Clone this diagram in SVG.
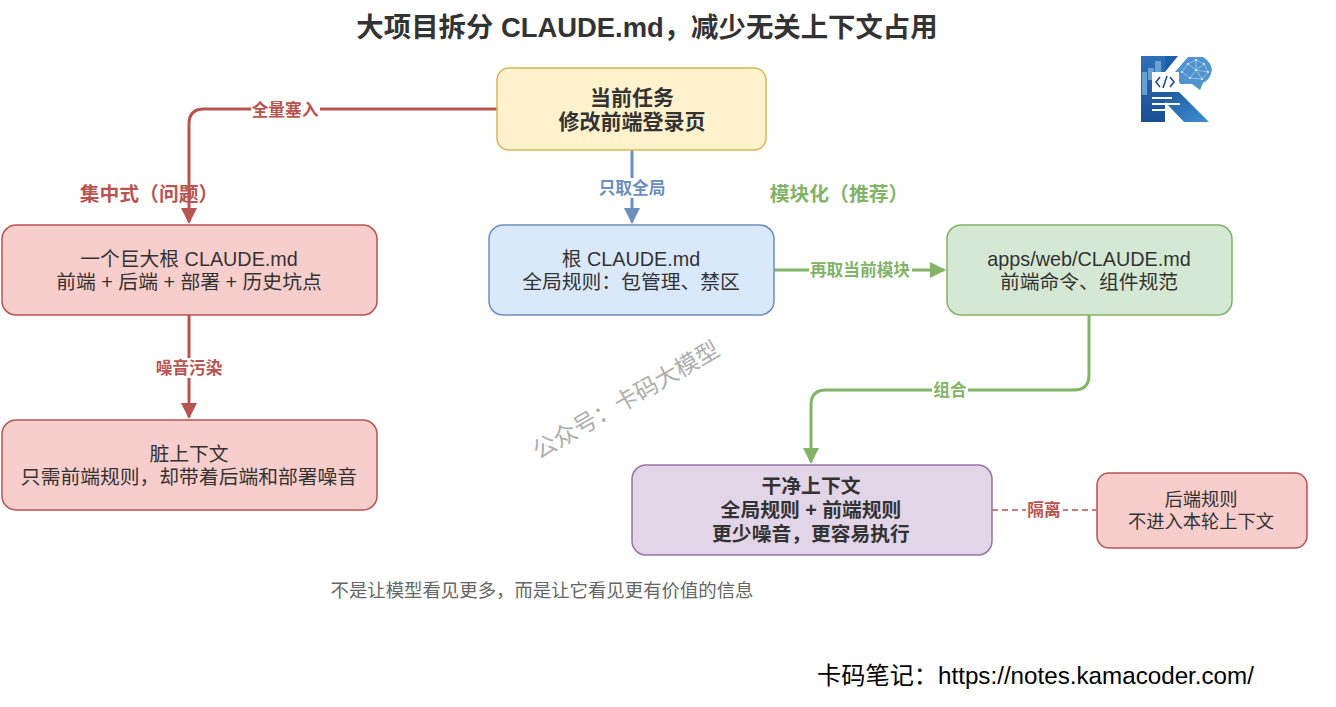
<svg xmlns="http://www.w3.org/2000/svg" width="1336" height="707" viewBox="0 0 1336 707">
<defs>
<linearGradient id="kb" x1="0" y1="0" x2="0" y2="1"><stop offset="0" stop-color="#2f6fb5"/><stop offset="1" stop-color="#1a4f94"/></linearGradient>
<linearGradient id="kl" x1="0" y1="0" x2="1" y2="1"><stop offset="0" stop-color="#1d5a9e"/><stop offset="1" stop-color="#3f8fd0"/></linearGradient>
<marker id="ar" markerUnits="userSpaceOnUse" markerWidth="18" markerHeight="18" refX="14" refY="8" orient="auto"><path d="M0 0L16 8L0 16Z" fill="#b85450"/></marker>
<marker id="ab" markerUnits="userSpaceOnUse" markerWidth="18" markerHeight="18" refX="14" refY="8" orient="auto"><path d="M0 0L16 8L0 16Z" fill="#6c8ebf"/></marker>
<marker id="ag" markerUnits="userSpaceOnUse" markerWidth="18" markerHeight="18" refX="14" refY="8" orient="auto"><path d="M0 0L16 8L0 16Z" fill="#82b366"/></marker>
</defs>
<style>
text{font-family:"Liberation Sans","Noto Sans CJK SC",sans-serif;text-anchor:middle}
.n{font-size:19.800px;fill:#333}
.b{font-size:19.800px;fill:#333;font-weight:700}
.t{font-size:21px;fill:#333;font-weight:700}
.s{font-size:18.300px;fill:#333}
.l{font-size:16.700px;font-weight:700}
.h{font-size:19.800px;font-weight:700}
.c{fill:none;stroke-width:3}
.lbg{fill:#fff}
rect{stroke-width:1.5}
.red{fill:#f8cecc;stroke:#b85450}
</style>
<rect width="1336" height="707" fill="#fff" style="stroke:none"/>
<text id="title" x="647" y="37" style="font-size:27.400px;font-weight:700;fill:#333">大项目拆分 CLAUDE.md，减少无关上下文占用</text>
<g id="connectors">
<path class="c" stroke="#b85450" marker-end="url(#ar)" d="M497 109H204Q189 109 189 124V222"/>
<path class="c" stroke="#b85450" marker-end="url(#ar)" d="M189 315V417"/>
<path class="c" stroke="#6c8ebf" marker-end="url(#ab)" d="M632 150V222"/>
<path class="c" stroke="#82b366" marker-end="url(#ag)" d="M774 270H944"/>
<path class="c" stroke="#82b366" marker-end="url(#ag)" d="M1089 315V375Q1089 390 1074 390H826Q811 390 811 405V462"/>
<path fill="none" stroke="#b85450" stroke-width="1.5" stroke-dasharray="6 4" d="M992 510H1096"/>
<rect class="lbg" x="251" y="100" width="69" height="19" style="stroke:none"/>
<text class="l" x="285" y="116" fill="#b85450">全量塞入</text>
<rect class="lbg" x="155" y="358" width="69" height="20" style="stroke:none"/>
<text class="l" x="189" y="374" fill="#b85450">噪音污染</text>
<rect class="lbg" x="598" y="178" width="68" height="20" style="stroke:none"/>
<text class="l" x="632" y="194" fill="#6c8ebf">只取全局</text>
<rect class="lbg" x="809" y="260" width="103" height="20" style="stroke:none"/>
<text class="l" x="860" y="276" fill="#82b366">再取当前模块</text>
<rect class="lbg" x="932" y="381" width="36" height="19" style="stroke:none"/>
<text class="l" x="950" y="396" fill="#82b366">组合</text>
<rect class="lbg" x="1026" y="500" width="37" height="20" style="stroke:none"/>
<text class="l" x="1044" y="516" fill="#b85450">隔离</text>
</g>
<text id="label-central" class="h" x="149" y="201" fill="#b85450">集中式（问题）</text>
<text id="label-modular" class="h" x="839" y="201" fill="#82b366">模块化（推荐）</text>
<g id="task"><rect x="497" y="68" width="269" height="82" rx="12" fill="#fff2cc" stroke="#d6b656"/>
<text class="t" x="632" y="105">当前任务</text><text class="t" x="632" y="129">修改前端登录页</text></g>
<g id="big-root"><rect class="red" x="2" y="225" width="375" height="90" rx="14"/>
<text class="n" x="189" y="266">一个巨大根 CLAUDE.md</text><text class="n" x="189" y="289">前端 + 后端 + 部署 + 历史坑点</text></g>
<g id="dirty"><rect class="red" x="2" y="420" width="375" height="90" rx="14"/>
<text class="n" x="189" y="461">脏上下文</text><text class="n" x="189" y="484">只需前端规则，却带着后端和部署噪音</text></g>
<g id="root"><rect x="489" y="225" width="285" height="90" rx="14" fill="#dae8fc" stroke="#6c8ebf"/>
<text class="n" x="631" y="266">根 CLAUDE.md</text><text class="n" x="631" y="289">全局规则：包管理、禁区</text></g>
<g id="web"><rect x="947" y="225" width="285" height="90" rx="14" fill="#d5e8d4" stroke="#82b366"/>
<text class="n" x="1089" y="266">apps/web/CLAUDE.md</text><text class="n" x="1089" y="289">前端命令、组件规范</text></g>
<g id="clean"><rect x="632" y="465" width="360" height="90" rx="14" fill="#e1d5e7" stroke="#9673a6"/>
<text class="b" x="811" y="493">干净上下文</text><text class="b" x="811" y="517">全局规则 + 前端规则</text><text class="b" x="811" y="541">更少噪音，更容易执行</text></g>
<g id="backend"><rect class="red" x="1097" y="473" width="210" height="75" rx="12"/>
<text class="s" x="1201" y="506">后端规则</text><text class="s" x="1201" y="528">不进入本轮上下文</text></g>
<text id="footnote" x="542" y="597" style="font-size:18.400px;fill:#666">不是让模型看见更多，而是让它看见更有价值的信息</text>
<text id="watermark" transform="translate(630 407) rotate(-30)" style="font-size:23.400px;fill:#adadad">公众号：卡码大模型</text>
<text id="site" x="1035.500" y="684" style="font-size:24.200px;fill:#000">卡码笔记：https://notes.kamacoder.com/</text>
<g id="logo">
<path d="M1141 56H1165V122H1141Z" fill="url(#kb)"/>
<path d="M1165 56H1178L1165 72Z" fill="#1f5ea6"/>
<path d="M1165 92H1179L1209 122H1184L1165 102Z" fill="url(#kl)"/>
<path d="M1175 72L1188 57H1203Q1211 62 1212 70Q1210 80 1203 83L1200 90L1192 84L1180 84Z" fill="#4f93cf"/>
<g fill="#e6f1fb"><circle cx="1182" cy="72" r="1.100"/><circle cx="1188" cy="64" r="1.100"/><circle cx="1196" cy="60" r="1.100"/><circle cx="1204" cy="64" r="1.100"/><circle cx="1208" cy="72" r="1.100"/><circle cx="1196" cy="70" r="1.100"/><circle cx="1190" cy="78" r="1.100"/><circle cx="1202" cy="79" r="1.100"/></g>
<path d="M1182 72L1188 64L1196 60L1204 64L1208 72L1202 79L1196 70L1190 78L1182 72M1188 64L1196 70L1204 64M1196 60V70M1196 70L1208 72M1190 78L1202 79" stroke="#d4e6f7" stroke-width=".5" fill="none"/>
<path d="M1142 72H1147V95H1142ZM1148 68H1154V80H1148ZM1155 61H1161V72H1155Z" fill="#78afdc" opacity=".8"/>
<path d="M1152 72H1179V92H1152Z" fill="#fff"/>
<path d="M1160 77L1156 82L1160 87M1170 77L1174 82L1170 87M1167 76L1163 88" fill="none" stroke="#1f4e8c" stroke-width="1.600"/>
<path d="M1152 98H1172M1152 104H1180M1152 110H1172" stroke="#fff" stroke-width="2"/>
</g>
</svg>
